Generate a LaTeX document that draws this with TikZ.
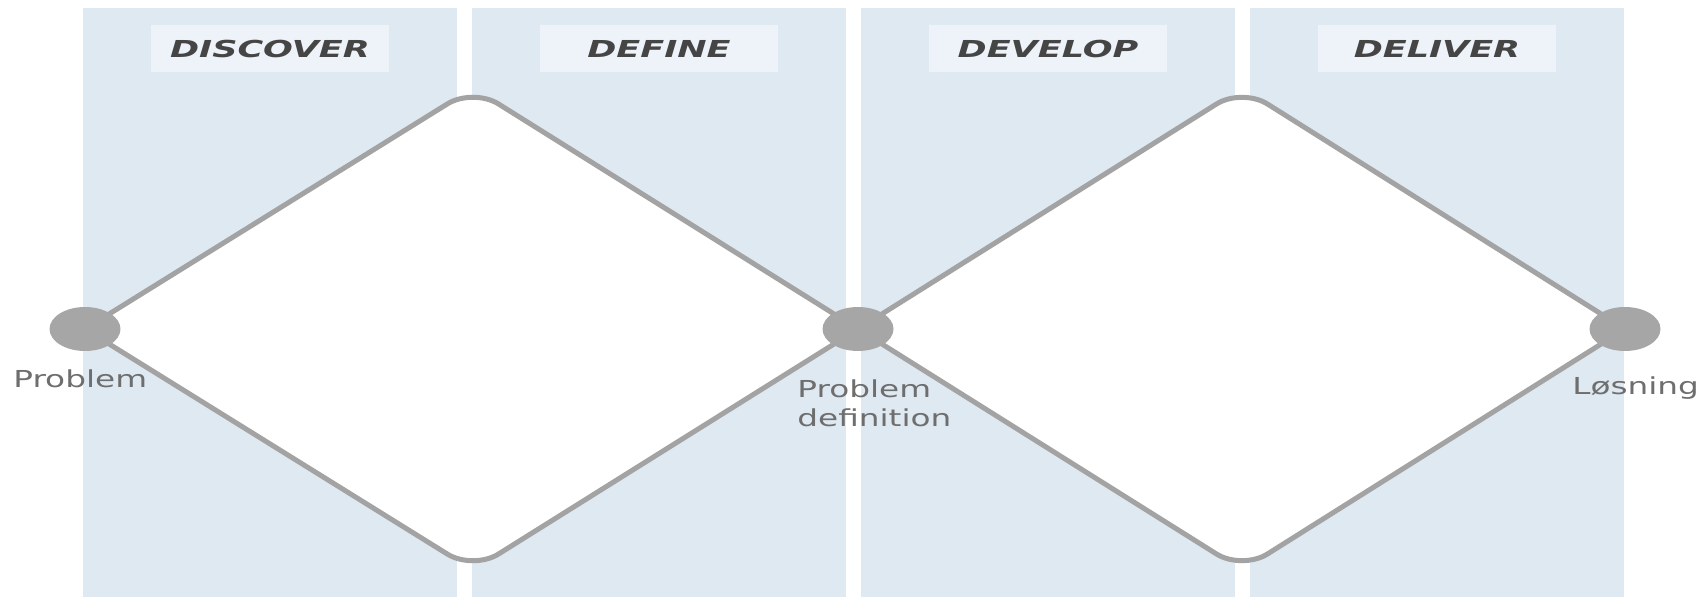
\documentclass[tikz,border=0pt]{standalone}
\usepackage{fontspec}
\setmainfont{DejaVu Sans}
\usetikzlibrary{positioning}
\usetikzlibrary{shapes.geometric}

\definecolor{panelblue}{HTML}{DFE9F2}
\definecolor{phasebox}{HTML}{EEF3F9}
\definecolor{headgray}{HTML}{454545}
\definecolor{labelgray}{HTML}{6E6E6E}
\definecolor{linegray}{HTML}{A3A3A3}
\definecolor{dotgray}{HTML}{A6A6A6}

\newcommand\stretchtext[2]{\scalebox{#1}[1]{#2}}

\begin{document}
\begin{tikzpicture}
  [
    x=0.02cm, y=-0.02cm,
    panel/.style = {fill=panelblue, minimum width=7.48cm, minimum height=11.78cm, inner sep=0},
    phase/.style = {fill=phasebox, minimum width=4.76cm, minimum height=0.94cm, inner sep=0,
                    text=headgray, font=\fontsize{13.3}{16}\selectfont\bfseries\itshape},
    diamondpath/.style = {draw=linegray, line width=2.85pt, fill=white, rounded corners=0.6cm, line join=round},
    milestone/.style = {ellipse, fill=dotgray, minimum width=1.42cm, minimum height=0.88cm, inner sep=0},
    milestonelabel/.style = {text=labelgray, inner sep=0, font=\fontsize{13.3}{17}\selectfont},
  ]

  \useasboundingbox (0,0) rectangle (1700,597);

  % the columns
  \node (pan1) at (270,302.5) [panel] {};
  \node (pan2) at (659,302.5) [panel] {};
  \node (pan3) at (1048,302.5) [panel] {};
  \node (pan4) at (1437,302.5) [panel] {};

  % the phase names
  \node (discover) [phase, below=0.34cm of pan1.north] {\stretchtext{1.5}{DISCOVER}};
  \node (define) [phase, below=0.34cm of pan2.north] {\stretchtext{1.5}{DEFINE}};
  \node (develop) [phase, below=0.34cm of pan3.north] {\stretchtext{1.5}{DEVELOP}};
  \node (deliver) [phase, below=0.34cm of pan4.north] {\stretchtext{1.5}{DELIVER}};

  % the two diamonds
  \coordinate (c1) at (85,329);
  \coordinate (c2) at (858,329);
  \coordinate (c3) at (1625,329);
  \coordinate (top1) at (473,88);
  \coordinate (bot1) at (473,570);
  \coordinate (top2) at (1242,88);
  \coordinate (bot2) at (1242,570);

  \draw[diamondpath] (c1) -- (top1) -- (c2) -- (bot1) -- cycle;
  \draw[diamondpath] (c2) -- (top2) -- (c3) -- (bot2) -- cycle;

  \node (problem) at (c1) [milestone] {};
  \node (definition) at (c2) [milestone] {};
  \node (solution) at (c3) [milestone] {};

  % labels under the dots
  \node (problemtext) at (13,388) [milestonelabel, anchor=base west] {\stretchtext{1.4}{Problem}};
  \node (definitiontext) at (797,379) [milestonelabel, anchor=north west, align=left]
    {\stretchtext{1.4}{Problem}\\\stretchtext{1.4}{definition}};
  \node (solutiontext) at (1572,395) [milestonelabel, anchor=base west] {\stretchtext{1.4}{Løsning}};

\end{tikzpicture}
\end{document}
